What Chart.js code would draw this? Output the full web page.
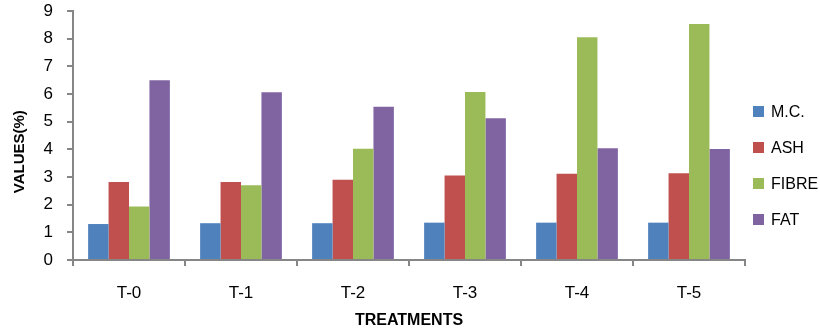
<!DOCTYPE html>
<html>
<head>
<meta charset="utf-8">
<script src="https://cdn.jsdelivr.net/npm/chart.js@4"></script>
<style>
  html, body { margin: 0; padding: 0; background: #fff; }
  #wrap { width: 820px; height: 330px; position: relative; }
  #legend { position: absolute; left: 753px; top: 0; }
  .item { position: absolute; left: 0; height: 20px; white-space: nowrap;
          font: 16px 'Liberation Sans', Arial, sans-serif; color: #000; line-height: 20px; }
  .item span.box { position: absolute; left: 0; top: 4px; width: 11px; height: 11px; }
  .item span.txt { position: absolute; left: 18px; top: 0; }
</style>
</head>
<body>
<div id="wrap">
  <canvas id="chart"></canvas>
  <div id="legend"></div>
</div>
<script>
// treatments on the x axis
const treatments = ["T-0", "T-1", "T-2", "T-3", "T-4", "T-5"];

// values (%)
const mc    = [1.30, 1.33, 1.33, 1.35, 1.35, 1.35];
const ash   = [2.82, 2.82, 2.90, 3.05, 3.12, 3.14];
const fibre = [1.93, 2.70, 4.02, 6.07, 8.05, 8.53];
const fat   = [6.50, 6.06, 5.54, 5.12, 4.04, 4.01];

const seriesNames = ["M.C.", "ASH", "FIBRE", "FAT"];
const seriesColors = ['#4F81BD', '#C0504D', '#9BBB59', '#8064A2'];

const yTicks = [0, 1, 2, 3, 4, 5, 6, 7, 8, 9];

const fontFam = "'Liberation Sans', Arial, sans-serif";
const axisGrey = '#868686';

// y axis title sits a bit below the middle of the axis in the original,
// so it is drawn here instead of with scales.y.title
const yTitlePlugin = {
    id: 'yTitle',
    afterDraw(chart) {
        const { ctx, chartArea } = chart;
        const y = chartArea.top + (chartArea.bottom - chartArea.top) * 0.565;
        ctx.save();
        ctx.translate(20, y);
        ctx.rotate(-Math.PI / 2);
        ctx.font = 'bold 15px ' + fontFam;
        ctx.fillStyle = '#000';
        ctx.textAlign = 'center';
        ctx.textBaseline = 'middle';
        ctx.fillText('VALUES(%)', 0, 0);
        ctx.restore();
    }
};

const chart = new Chart(document.getElementById('chart'), {
    type: 'bar',
    data: {
        labels: treatments,
        datasets: [mc, ash, fibre, fat].map((d, i) => ({
            label: seriesNames[i],
            data: d,
            backgroundColor: seriesColors[i]
        }))
    },
    options: {
        responsive: true,
        maintainAspectRatio: false,
        animation: false,
        datasets: {
            bar: { categoryPercentage: 0.73, barPercentage: 1.0 }
        },
        layout: { padding: { left: 11, right: 75, top: 11, bottom: 0 } },
        plugins: {
            legend: { display: false },
            tooltip: { enabled: false }
        },
        scales: {
            x: {
                afterFit: axis => { axis.height = 70; },
                grid: {
                    display: true,
                    offset: true,
                    drawOnChartArea: false,
                    drawTicks: true,
                    tickLength: 6,
                    color: axisGrey,
                    lineWidth: 2
                },
                border: { color: axisGrey, width: 2 },
                ticks: {
                    color: '#000',
                    padding: 17,
                    font: { family: fontFam, size: 17 }
                },
                title: {
                    display: true,
                    text: 'TREATMENTS',
                    color: '#000',
                    padding: { top: 0, bottom: 0 },
                    font: { family: fontFam, size: 16, weight: 'bold' }
                }
            },
            y: {
                min: 0,
                max: 9,
                afterFit: axis => {
                    axis.width = 62;
                    axis.paddingTop = 0;
                    axis.paddingBottom = 0;
                },
                afterBuildTicks: axis => {
                    axis.ticks = yTicks.map(v => ({ value: v }));
                },
                grid: {
                    display: true,
                    drawOnChartArea: false,
                    drawTicks: true,
                    tickLength: 6,
                    color: axisGrey,
                    lineWidth: 2
                },
                border: { color: axisGrey, width: 2 },
                ticks: {
                    color: '#000',
                    padding: 14,
                    font: { family: fontFam, size: 17 }
                }
            }
        }
    },
    plugins: [yTitlePlugin]
});

// legend on the right, built from the same series arrays
const legend = document.getElementById('legend');
seriesNames.forEach((name, i) => {
    const item = document.createElement('div');
    item.className = 'item';
    item.style.top = (102 + i * 36) + 'px';
    const box = document.createElement('span');
    box.className = 'box';
    box.style.background = seriesColors[i];
    const txt = document.createElement('span');
    txt.className = 'txt';
    txt.textContent = name;
    item.appendChild(box);
    item.appendChild(txt);
    legend.appendChild(item);
});
</script>
</body>
</html>
